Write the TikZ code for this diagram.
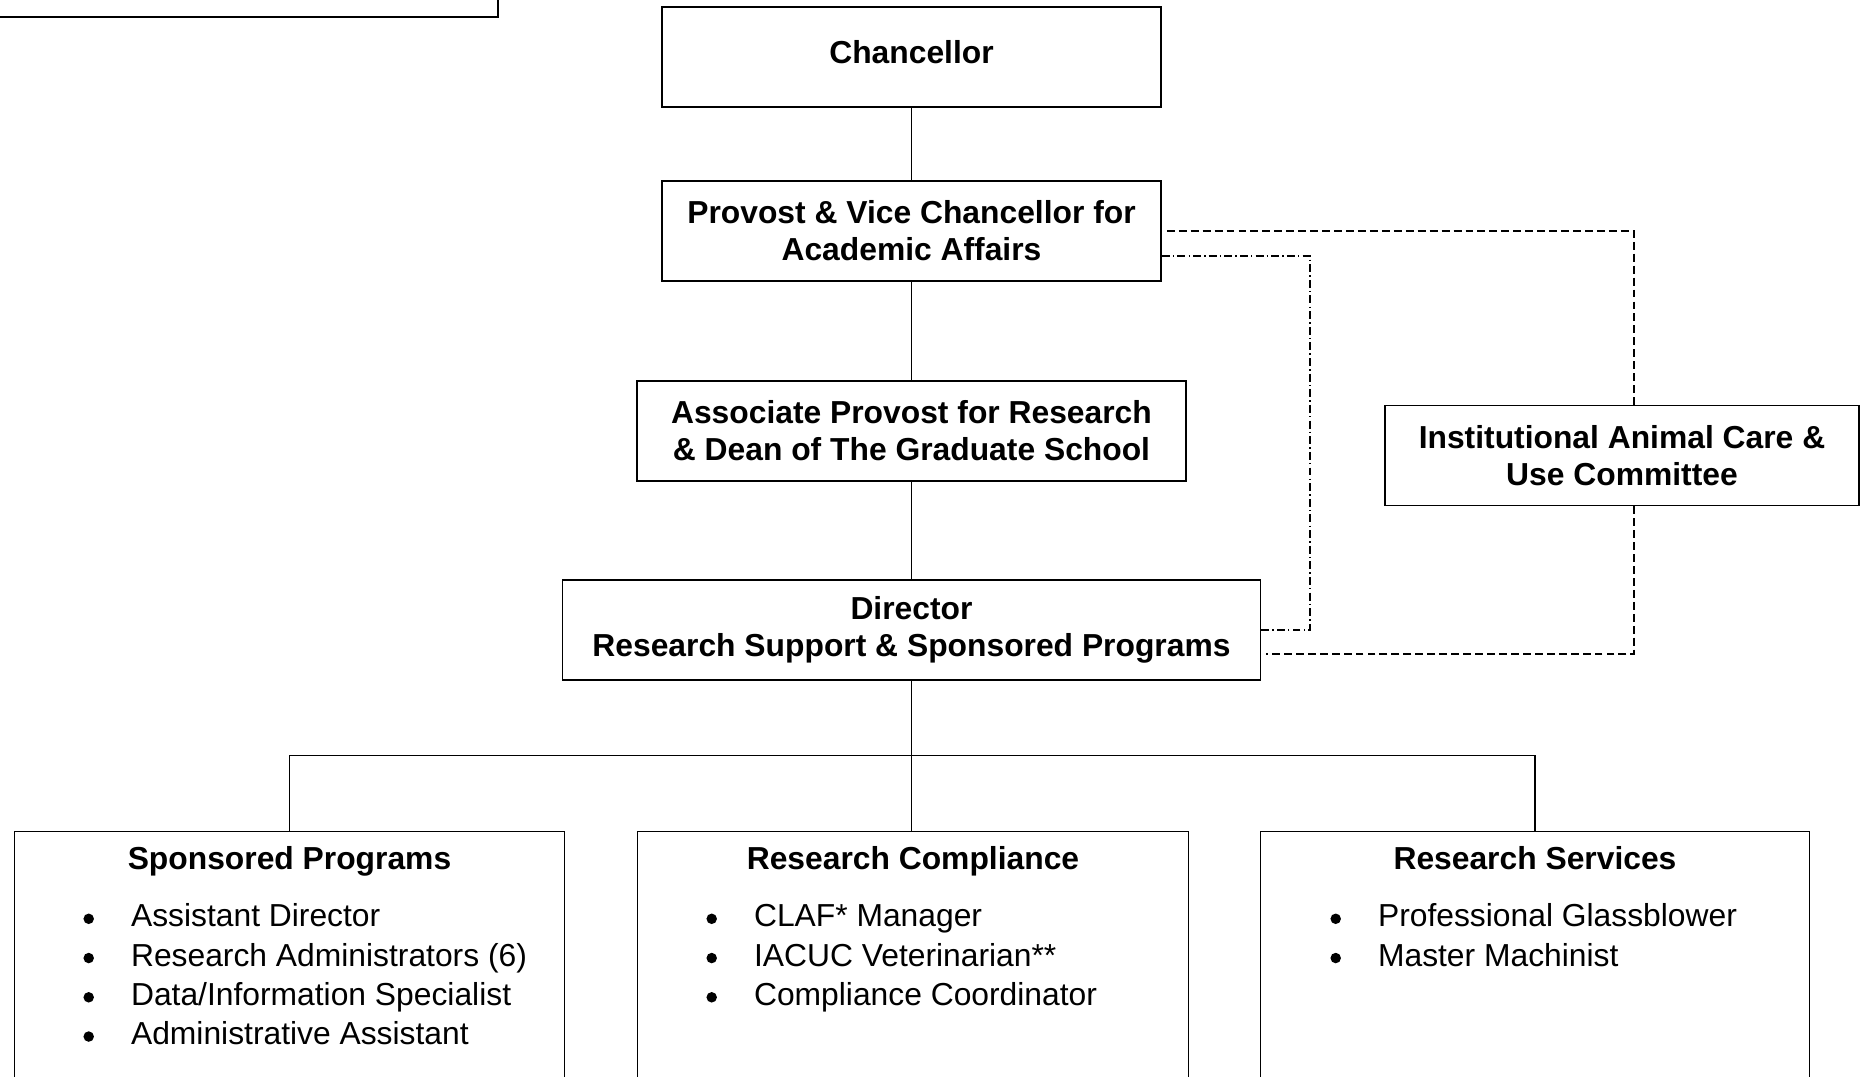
\documentclass[tikz,border=0pt]{standalone}
\usepackage{fontspec}
\setmainfont{Liberation Sans}
\usetikzlibrary{calc}
\tikzset{
    my-box/.style={
        draw, line width=0.9pt, minimum height=2cm, inner sep=0pt, align=center,
        font=\fontsize{18.1}{21}\selectfont\bfseries
    },
    my-unit-box/.style={
        draw, line width=0.9pt, minimum height=6cm, anchor=north, inner sep=0pt
    },
    my-title/.style={
        inner sep=0pt, text height=0.46cm, text depth=0pt,
        font=\fontsize{18.1}{21}\selectfont\bfseries
    },
    my-item/.style={
        anchor=west, inner sep=0pt, text height=0.46cm, text depth=0pt,
        font=\fontsize{18.1}{21}\selectfont
    },
    my-bullet/.style={
        fill, shape=circle, minimum size=0.21cm, inner sep=0pt
    },
    my-link/.style={line width=0.7pt},
    my-dashed-link/.style={line width=0.7pt, dash pattern=on 4.5pt off 2.3pt},
    my-dashdot-link/.style={line width=0.7pt, dash pattern=on 4.5pt off 1.8pt on 0.8pt off 1.8pt},
}
\begin{document}
\begin{tikzpicture}

        % PAGE ----------------------------------------------------------------------------------------
        \useasboundingbox (0,0) rectangle (37.34,-21.52);
        \clip (0,0) rectangle (37.34,-21.52);

        % TOP LEFT BOX (CUT BY PAGE EDGE)
        \node[my-box, minimum width=11cm, anchor=south east] (TOPBOX) at (9.98,-0.36) {};

        % CHAIN OF COMMAND ----------------------------------------------------------------------------
        \node[my-box, minimum width=9.98cm, text depth=0.2cm] (CHANCELLOR) at (18.23,-1.14) {Chancellor};
        \node[my-box, minimum width=9.98cm]  (PROVOST)    at ($(CHANCELLOR) + (0, -3.48)$) {Provost \& Vice Chancellor for\\Academic Affairs};
        \node[my-box, minimum width=10.98cm] (ASSOC)      at ($(PROVOST) + (0, -4)$)       {Associate Provost for Research\\\& Dean of The Graduate School};
        \node[my-box, minimum width=13.96cm] (DIRECTOR)   at ($(ASSOC) + (0, -3.98)$)      {Director\\Research Support \& Sponsored Programs};
        \node[my-box, minimum width=9.48cm]  (IACUC)      at ($(ASSOC) + (14.21, -0.49)$)  {Institutional Animal Care \&\\Use Committee};

        \draw[my-link] (CHANCELLOR) -- (PROVOST);
        \draw[my-link] (PROVOST)    -- (ASSOC);
        \draw[my-link] (ASSOC)      -- (DIRECTOR);

        % DOTTED REPORTING LINES
        \coordinate (IACUCTOP) at ($(IACUC.north) + (0.24, 0)$);
        \coordinate (IACUCBOT) at ($(IACUC.south) + (0.24, 0)$);
        \draw[my-dashed-link] ($(PROVOST.east) + (0.1, 0)$) -| (IACUCTOP);
        \draw[my-dashed-link] (IACUCBOT) |- ($(DIRECTOR.east) + (0.1, -0.48)$);

        \coordinate (DOTX) at (26.2, -8);
        \draw[my-dashdot-link] ($(PROVOST.east) + (0, -0.5)$) -| (DOTX |- DIRECTOR.east) -- (DIRECTOR.east);

        % UNITS ---------------------------------------------------------------------------------------
        \node[my-unit-box, minimum width=11.02cm] (RC) at ($(DIRECTOR.south) + (0.03, -3)$) {};
        \node[my-unit-box, minimum width=11cm]    (SP) at ($(RC.north) + (-12.47, 0)$)      {};
        \node[my-unit-box, minimum width=10.98cm] (RS) at ($(RC.north) + (12.44, 0)$)       {};

        \draw[my-link] (DIRECTOR.south) -- (DIRECTOR.south |- RC.north);
        \draw[my-link] (SP.north) -- ++(0, 1.5) -| (RS.north);

        % SPONSORED PROGRAMS
        \node[my-title] (SPTITLE) at ($(SP.north) + (0, -0.55)$) {Sponsored Programs};
        \foreach \txt [count=\i] in {Assistant Director, Research Administrators (6), Data/Information Specialist, Administrative Assistant} {
            \node[my-bullet] (SPDOT\i)  at ($(SP.north west) + (1.5, {-0.975-0.785*\i})$)  {};
            \node[my-item]   (SPITEM\i) at ($(SP.north west) + (2.34, {-0.905-0.785*\i})$) {\txt};
        }

        % RESEARCH COMPLIANCE
        \node[my-title] (RCTITLE) at ($(RC.north) + (0, -0.55)$) {Research Compliance};
        \foreach \txt [count=\i] in {CLAF* Manager, IACUC Veterinarian**, Compliance Coordinator} {
            \node[my-bullet] (RCDOT\i)  at ($(RC.north west) + (1.5, {-0.975-0.785*\i})$)  {};
            \node[my-item]   (RCITEM\i) at ($(RC.north west) + (2.34, {-0.905-0.785*\i})$) {\txt};
        }

        % RESEARCH SERVICES
        \node[my-title] (RSTITLE) at ($(RS.north) + (0, -0.55)$) {Research Services};
        \foreach \txt [count=\i] in {Professional Glassblower, Master Machinist} {
            \node[my-bullet] (RSDOT\i)  at ($(RS.north west) + (1.52, {-0.975-0.785*\i})$)  {};
            \node[my-item]   (RSITEM\i) at ($(RS.north west) + (2.36, {-0.905-0.785*\i})$) {\txt};
        }

\end{tikzpicture}
\end{document}
